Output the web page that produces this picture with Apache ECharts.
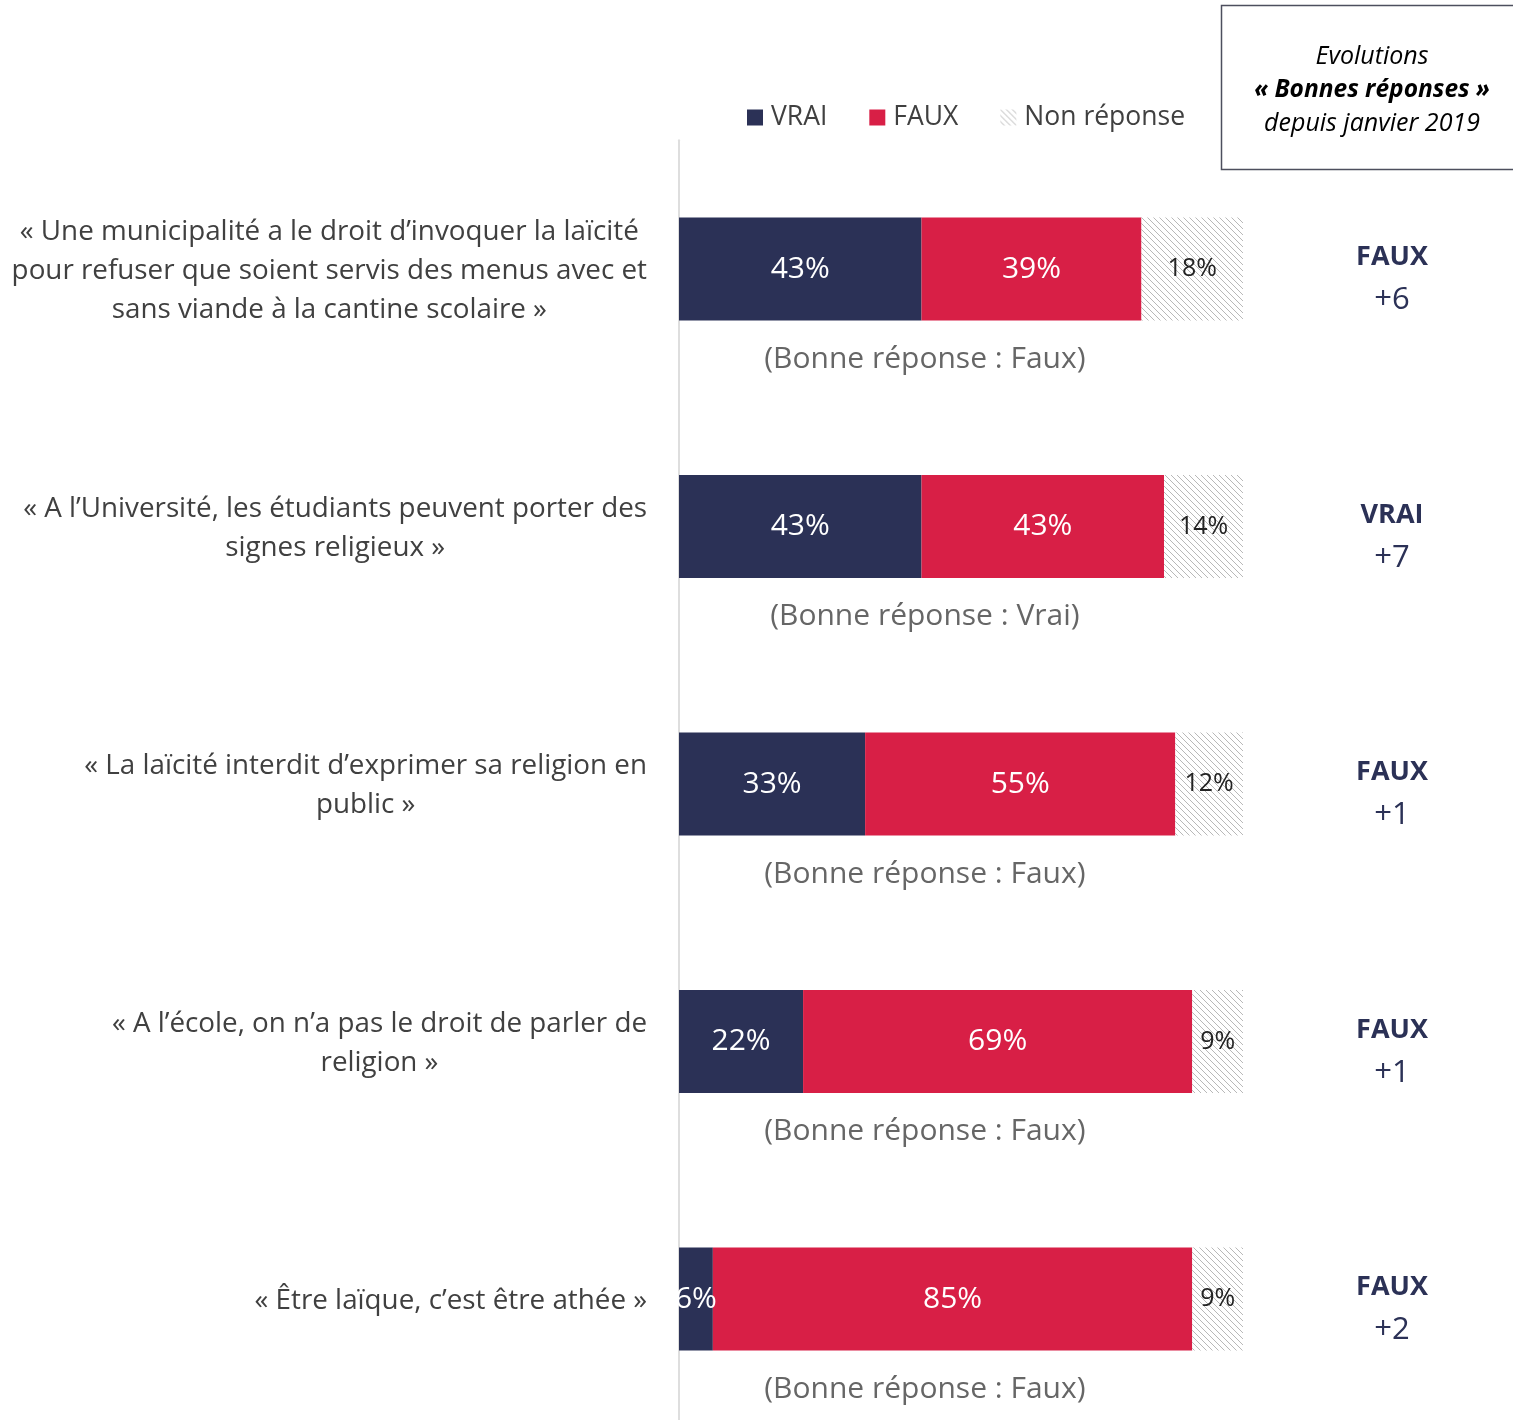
<!DOCTYPE html>
<html>
<head>
<meta charset="utf-8">
<script src="https://cdn.jsdelivr.net/npm/echarts@6/dist/echarts.min.js"></script>
<style>
html,body{margin:0;padding:0;background:#fff;}
#chart{width:1513px;height:1420px;}
</style>
</head>
<body>
<div id="chart"></div>
<script>
const categories = [
  "« Une municipalité a le droit d’invoquer la laïcité\npour refuser que soient servis des menus avec et\nsans viande à la cantine scolaire »",
  "« A l’Université, les étudiants peuvent porter des\nsignes religieux »",
  "« La laïcité interdit d’exprimer sa religion en\npublic »",
  "« A l’école, on n’a pas le droit de parler de\nreligion »",
  "« Être laïque, c’est être athée »"
];
const vraiValues = [43, 43, 33, 22, 6];
const fauxValues = [39, 43, 55, 69, 85];
const nonReponseValues = [18, 14, 12, 9, 9];
const goodAnswerNotes = [
  "(Bonne réponse : Faux)",
  "(Bonne réponse : Vrai)",
  "(Bonne réponse : Faux)",
  "(Bonne réponse : Faux)",
  "(Bonne réponse : Faux)"
];
const correctAnswers = ["FAUX", "VRAI", "FAUX", "FAUX", "FAUX"];
const evolutions = ["+6", "+7", "+1", "+1", "+2"];
const seriesNames = ["VRAI", "FAUX", "Non réponse"];

const FONT = "'Open Sans', sans-serif";
const NAVY = "#2b3156";
const RED = "#d81f46";
const GREY = "#404040";

function hatch() {
  const s = 6;
  const c = document.createElement('canvas');
  c.width = s; c.height = s;
  const g = c.getContext('2d');
  g.fillStyle = '#ffffff';
  g.fillRect(0, 0, s, s);
  g.strokeStyle = '#b8b8b8';
  g.lineWidth = 1;
  for (const k of [-s, 0, s]) {
    g.beginPath();
    g.moveTo(k, 0);
    g.lineTo(k + s, s);
    g.stroke();
  }
  return { image: c, repeat: 'repeat' };
}
const hatchPattern = hatch();

const chart = echarts.init(document.getElementById('chart'), null, { renderer: 'canvas' });

const barCommon = {
  type: 'bar',
  stack: 'total',
  barWidth: 103,
  yAxisIndex: 0,
  emphasis: { disabled: true }
};

const option = {
  animation: false,
  backgroundColor: '#ffffff',
  legend: {
    data: seriesNames,
    left: 742,
    top: 99,
    itemWidth: 16,
    itemHeight: 16,
    itemGap: 42,
    icon: 'rect',
    textStyle: { fontFamily: FONT, fontSize: 26.5, color: GREY, padding: [0, 0, 0, 3] }
  },
  grid: { left: 679, top: 140.25, width: 564, height: 1287.5, containLabel: false, outerBoundsMode: 'none' },
  xAxis: {
    type: 'value', min: 0, max: 100, show: false
  },
  yAxis: [
    {
      type: 'category',
      data: categories,
      inverse: true,
      axisLine: { show: true, lineStyle: { color: '#dedede', width: 2 } },
      axisTick: { show: false },
      axisLabel: {
        margin: 32,
        align: 'right',
        padding: [4, 0, 0, 0],
        formatter: v => v.split('\n').map(l => '{c|' + l + '}').join('\n'),
        rich: {
          c: { align: 'center', fontFamily: FONT, fontSize: 27.8, lineHeight: 39, color: GREY }
        }
      }
    },
    {
      type: 'category',
      data: categories,
      inverse: true,
      position: 'right',
      axisLine: { show: false },
      axisTick: { show: false },
      axisLabel: {
        margin: 149,
        align: 'center',
        padding: [20, 0, 0, 0],
        formatter: (v, i) => '{b|' + correctAnswers[i] + '}\n{n|' + evolutions[i] + '}',
        rich: {
          b: { fontFamily: FONT, fontSize: 27, fontWeight: 'bold', color: NAVY, lineHeight: 43, align: 'center' },
          n: { fontFamily: FONT, fontSize: 31, color: NAVY, lineHeight: 43, align: 'center' }
        }
      }
    }
  ],
  series: [
    Object.assign({}, barCommon, {
      name: seriesNames[0],
      data: vraiValues,
      itemStyle: { color: NAVY },
      label: { show: true, position: 'inside', formatter: '{c}%', color: '#ffffff', fontFamily: FONT, fontSize: 30, overflow: 'none' }
    }),
    Object.assign({}, barCommon, {
      name: seriesNames[1],
      data: fauxValues,
      itemStyle: { color: RED },
      label: { show: true, position: 'inside', formatter: '{c}%', color: '#ffffff', fontFamily: FONT, fontSize: 30 }
    }),
    Object.assign({}, barCommon, {
      name: seriesNames[2],
      data: nonReponseValues,
      itemStyle: { color: hatchPattern },
      label: { show: true, position: 'inside', formatter: '{c}%', color: '#222222', fontFamily: FONT, fontSize: 25 }
    }),
    {
      type: 'scatter',
      yAxisIndex: 0,
      symbolSize: 0,
      silent: true,
      data: goodAnswerNotes.map((t, i) => [43.6, i]),
      label: {
        show: true,
        position: 'inside',
        offset: [0, 90],
        formatter: p => goodAnswerNotes[p.dataIndex],
        fontFamily: FONT, fontSize: 30, color: GREY
      }
    }
  ],
  graphic: [
    {
      type: 'rect',
      shape: { x: 1221.5, y: 5.5, width: 300, height: 164 },
      style: { fill: 'none', stroke: '#4d4f5e', lineWidth: 1.5 },
      silent: true
    },
    {
      type: 'text',
      x: 1372, y: 90,
      style: {
        text: '{i|Evolutions}\n{bi|« Bonnes réponses »}\n{i|depuis janvier 2019}',
        align: 'center',
        verticalAlign: 'middle',
        rich: {
          i: { fontFamily: FONT, fontStyle: 'italic', fontSize: 25, color: '#222222', lineHeight: 33.5, align: 'center' },
          bi: { fontFamily: FONT, fontStyle: 'italic', fontWeight: 'bold', fontSize: 24.5, color: '#222222', lineHeight: 33.5, align: 'center' }
        }
      },
      silent: true
    }
  ]
};

chart.setOption(option);
</script>
</body>
</html>
